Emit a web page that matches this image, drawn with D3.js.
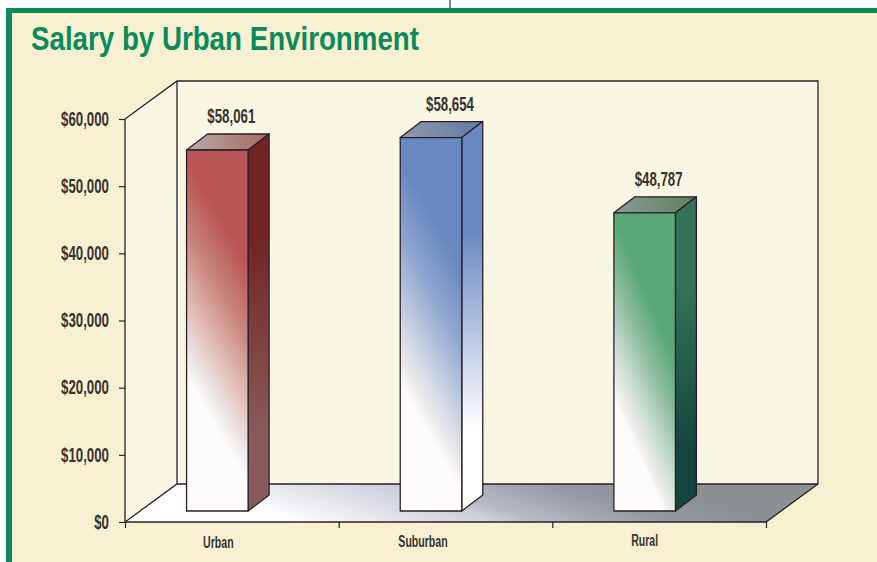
<!DOCTYPE html>
<html>
<head>
<meta charset="utf-8">
<script src="https://cdn.jsdelivr.net/npm/d3@7"></script>
<style>
  html, body { margin: 0; background: #fff; }
  svg { display: block; }
  text { font-family: "Liberation Sans", sans-serif; fill: #38332f; }
  .title { font-size: 33.5px; font-weight: 700; fill: #0b8a5c; }
  .tick-label { font-size: 19.5px; font-weight: 700; }
  .cat-label { font-size: 16px; font-weight: 700; }
  .edge { fill: none; stroke: #2a1f2a; stroke-width: 1.3; }
</style>
</head>
<body>
<div id="chart"></div>
<script>
/* Salary by Urban Environment - faux 3D bars */

const categories = ["Urban", "Suburban", "Rural"];
const salaries = [58061, 58654, 48787];        // printed labels
const drawnValues = [53750, 55600, 44400];     // height the bars really have against the axis
const yTicks = [0, 10000, 20000, 30000, 40000, 50000, 60000];

// one palette per bar: front, side start/end, top start/end
const palettes = [
  { front: "#b85454", mid: "#c9867e", pale: "#e3c0ba", side: ["#722523", "#8a5a5a"], top: ["#b3aeac", "#a8685e"], slope: 1.69, white: 0.37 },
  { front: "#6888c0", mid: "#8fa5cf", pale: "#c5cfe2", side: ["#6a88c0", "#ffffff"], top: ["#8f99a8", "#5f7aa8"], slope: 1.75, white: 0.34 },
  { front: "#5aa878", mid: "#8cbc9e", pale: "#c4dccd", side: ["#357257", "#14463f"], top: ["#8c9a92", "#5f8062"], slope: 2.3, white: 0.38 }
];

const width = 877, height = 562;
const margin = ({ top: 119, right: 111, bottom: 40, left: 125 });
const plotLeft = margin.left, plotRight = width - margin.right;
const plotTop = margin.top, plotBottom = height - margin.bottom;
const depth = { x: 52, y: -38 };     // floor depth
const barDepth = { x: 21, y: -16 };  // bar depth
const barLift = 11;                  // bar base sits behind the front edge

const svg = d3.select("#chart").append("svg")
  .attr("width", width)
  .attr("height", height)
  .attr("viewBox", [0, 0, width, height]);

const y = d3.scaleLinear().domain([0, 60000]).range([plotBottom, plotTop]);
const xEdges = d3.scaleLinear().domain([0, categories.length]).range([plotLeft, plotRight]);
const xBar = d3.scaleBand().domain(categories)
  .range([plotLeft - 14.5, plotRight - 14.5])
  .paddingInner(0.712)
  .paddingOuter(0.356);

const defs = svg.append("defs");

function linear(id, p0, p1, stops) {
  const g = defs.append("linearGradient")
    .attr("id", id)
    .attr("gradientUnits", "userSpaceOnUse")
    .attr("x1", p0[0]).attr("y1", p0[1])
    .attr("x2", p1[0]).attr("y2", p1[1]);
  stops.forEach(s => g.append("stop").attr("offset", s[0]).attr("stop-color", s[1]));
}

// no condensed face is installed, so squeeze the glyphs
function squeeze(sel, k) {
  sel.each(function () {
    d3.select(this)
      .attr("textLength", this.getComputedTextLength() * k)
      .attr("lengthAdjust", "spacingAndGlyphs");
  });
}

const poly = pts => "M" + pts.map(p => p.join(",")).join("L") + "Z";

// page background and frame
svg.append("rect").attr("x", 6).attr("y", 8).attr("width", width).attr("height", height).attr("fill", "#0b8a5c");
svg.append("rect").attr("x", 12).attr("y", 13).attr("width", width).attr("height", height).attr("fill", "#f7f1d2");
svg.append("line").attr("x1", 450).attr("x2", 450).attr("y1", 0).attr("y2", 8)
  .attr("stroke", "#555").attr("stroke-width", 1.4);

svg.append("text").attr("class", "title")
  .attr("x", 31).attr("y", 50)
  .text("Salary by Urban Environment")
  .call(squeeze, 0.827);

// floor
linear("floor", [plotLeft, plotBottom], [plotLeft + 75.5, plotBottom - 236], [
  [0.21, "#ffffff"], [0.34, "#e4e4ea"], [0.46, "#ccd0da"], [0.505, "#b8bcc6"], [0.66, "#959aa3"], [0.8, "#8b9093"], [1, "#8b9093"]
]);
const y0 = y(0), y1 = y(60000);
svg.append("path")
  .attr("d", poly([[plotLeft, y0], [plotRight, y0], [plotRight + depth.x, y0 + depth.y], [plotLeft + depth.x, y0 + depth.y]]))
  .attr("fill", "url(#floor)");

// walls
svg.append("path")
  .attr("d", poly([[plotLeft, y0], [plotLeft, y1], [plotLeft + depth.x, y1 + depth.y], [plotLeft + depth.x, y0 + depth.y]]))
  .attr("fill", "#f9f6e3");
svg.append("path")
  .attr("d", poly([[plotLeft + depth.x, y1 + depth.y], [plotRight + depth.x, y1 + depth.y], [plotRight + depth.x, y0 + depth.y], [plotLeft + depth.x, y0 + depth.y]]))
  .attr("fill", "#f9f6e3");

// frame lines of the box
svg.append("path").attr("class", "edge")
  .attr("d", `M${plotLeft},${y0}L${plotLeft},${y1}L${plotLeft + depth.x},${y1 + depth.y}L${plotRight + depth.x},${y1 + depth.y}L${plotRight + depth.x},${y0 + depth.y}L${plotRight},${y0}L${plotLeft},${y0}L${plotLeft + depth.x},${y0 + depth.y}L${plotRight + depth.x},${y0 + depth.y}M${plotLeft + depth.x},${y1 + depth.y}L${plotLeft + depth.x},${y0 + depth.y}`);

// axes
const axisY = svg.append("g")
  .attr("transform", `translate(${plotLeft},0)`)
  .call(d3.axisLeft(y).tickValues(yTicks).tickSize(6).tickSizeOuter(0).tickPadding(10)
    .tickFormat(d => "$" + d3.format(",")(d)));
axisY.select(".domain").remove();
axisY.selectAll(".tick line").attr("stroke", "#2a1f2a").attr("stroke-width", 1.2);
axisY.selectAll("text").attr("class", "tick-label").call(squeeze, 0.68);

const axisX = svg.append("g")
  .attr("transform", `translate(0,${plotBottom})`)
  .call(d3.axisBottom(xEdges).ticks(categories.length).tickSize(6).tickSizeOuter(0).tickFormat(""));
axisX.select(".domain").remove();
axisX.selectAll(".tick line").attr("stroke", "#2a1f2a").attr("stroke-width", 1.2);

// small hand nudges, the category labels are not centred in the print
const labelNudge = [1, -8, 0];
svg.selectAll(".cat-label")
  .data(categories)
  .join("text")
  .attr("class", "cat-label")
  .attr("text-anchor", "middle")
  .attr("x", (d, i) => xBar(d) + xBar.bandwidth() / 2 + labelNudge[i])
  .attr("y", (d, i) => 548 - i)
  .text(d => d)
  .call(squeeze, 0.66);

// bars
categories.forEach((c, i) => {
  const x0 = xBar(c), x1 = x0 + xBar.bandwidth();
  const base = y(0) - barLift, yTop = y(drawnValues[i]) - barLift;
  const h = base - yTop;
  const pal = palettes[i];
  const mid = (x0 + x1) / 2;

  // fade runs across the face, from a white line low on the left edge
  const norm = Math.hypot(1, pal.slope);
  const nx = pal.slope / norm, ny = -1 / norm;
  const whiteLeft = base - h * pal.white;
  const whiteMid = whiteLeft + (mid - x0) * pal.slope;
  const dist = h * 0.6 * Math.abs(ny);
  linear("front" + i, [mid, whiteMid], [mid + nx * dist, whiteMid + ny * dist], [
    [0, "#fdfcfb"], [0.09, "#efedec"], [0.34, pal.pale], [0.66, pal.mid], [1, pal.front]
  ]);
  linear("side" + i, [x1, yTop + h * 0.25], [x1, yTop + h * 0.78], [[0, pal.side[0]], [1, pal.side[1]]]);
  linear("top" + i, [x0, yTop], [x1 + barDepth.x, yTop], [[0, pal.top[0]], [1, pal.top[1]]]);

  const g = svg.append("g");
  g.append("path")
    .attr("d", poly([[x0, yTop], [x1, yTop], [x1 + barDepth.x, yTop + barDepth.y], [x0 + barDepth.x, yTop + barDepth.y]]))
    .attr("fill", `url(#top${i})`);
  g.append("path")
    .attr("d", poly([[x1, yTop], [x1 + barDepth.x, yTop + barDepth.y], [x1 + barDepth.x, base + barDepth.y], [x1, base]]))
    .attr("fill", `url(#side${i})`);
  g.append("path")
    .attr("d", poly([[x0, yTop], [x1, yTop], [x1, base], [x0, base]]))
    .attr("fill", `url(#front${i})`);
  g.selectAll("path").attr("stroke", "#2a1f2a").attr("stroke-width", 1.3).attr("stroke-linejoin", "round");

  svg.append("text")
    .attr("class", "tick-label")
    .attr("text-anchor", "middle")
    .attr("x", mid + (i === 1 ? 19 : 14))
    .attr("y", yTop + barDepth.y - 10.5)
    .text("$" + d3.format(",")(salaries[i]))
    .call(squeeze, 0.68);
});
</script>
</body>
</html>
